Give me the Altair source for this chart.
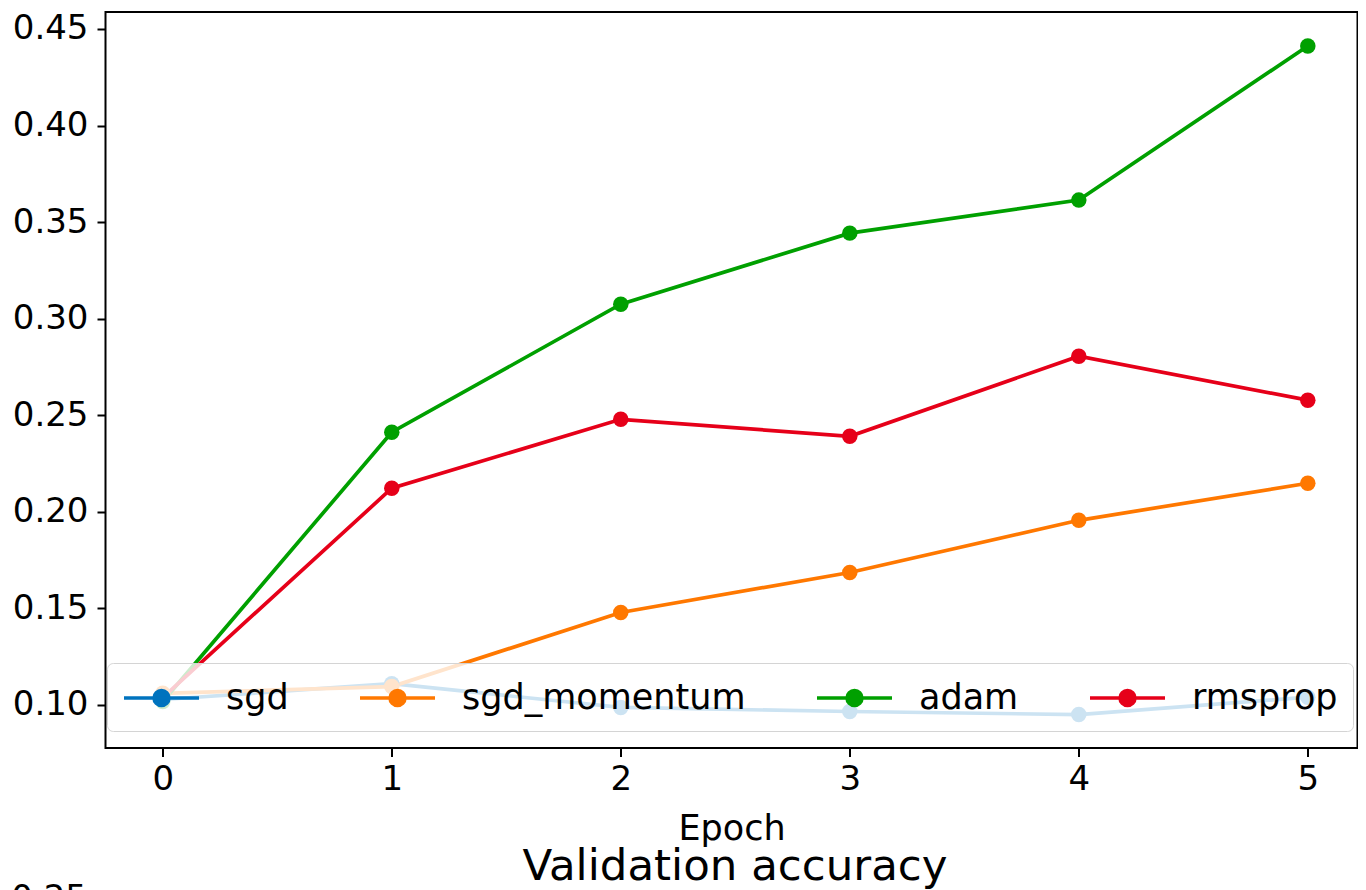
import altair as alt
import pandas as pd

# ---- data ----
epochs = [0, 1, 2, 3, 4, 5]
series_names = ["sgd", "sgd_momentum", "adam", "rmsprop"]
sgd = [0.1028, 0.1110, 0.0987, 0.0966, 0.0950, 0.1040]
sgd_momentum = [0.1060, 0.1095, 0.1479, 0.1686, 0.1956, 0.2148]
adam = [0.1018, 0.2412, 0.3075, 0.3443, 0.3614, 0.4412]
rmsprop = [0.1038, 0.2122, 0.2479, 0.2391, 0.2806, 0.2578]
series_colors = ["#0073be", "#ff7800", "#00a000", "#e60019"]
x_ticks = [0, 1, 2, 3, 4, 5]
y_ticks = [0.10, 0.15, 0.20, 0.25, 0.30, 0.35, 0.40, 0.45]
x_domain = [-0.25, 5.217]
y_domain = [0.0777, 0.4588]
chart_title = "Training accuracy"
x_title = "Epoch"
next_title = ["Validation accuracy"]
next_tick = ["0.25"]

rows = []
for name, vals in zip(series_names, [sgd, sgd_momentum, adam, rmsprop]):
    for e, v in zip(epochs, vals):
        rows.append({"epoch": e, "acc": v, "optimizer": name})
df = pd.DataFrame(rows)

W, H = 1252, 736
FONT = "DejaVu Sans"

# legend handle: a line with a dot in its middle (symbol radius r = 18 px)
legend_path = (
    "M-1,0L3.167,0"
    "M1.5,0A0.417,0.417,0,1,1,0.666,0A0.417,0.417,0,1,1,1.5,0Z"
)

color = alt.Color(
    "optimizer:N",
    scale=alt.Scale(domain=series_names, range=series_colors),
    sort=series_names,
    legend=alt.Legend(
        orient="none",
        legendX=1.5,
        legendY=651,
        direction="horizontal",
        columns=4,
        title=None,
        symbolType=legend_path,
        symbolSize=1296,
        symbolStrokeWidth=3.5,
        labelFont=FONT,
        labelFontSize=35,
        labelOffset=64,
        labelLimit=500,
        labelColor="black",
        columnPadding=64,
        padding=15,
        fillColor="rgba(255,255,255,0.8)",
        strokeColor="#d4d4d4",
        cornerRadius=6,
    ),
)

x = alt.X(
    "epoch:Q",
    scale=alt.Scale(domain=x_domain, nice=False, zero=False),
    axis=alt.Axis(
        values=x_ticks,
        format="d",
        title=x_title,
        titleFont=FONT,
        titleFontSize=35,
        titleFontWeight="normal",
        titleColor="black",
        titleY=91,
        titleBaseline="alphabetic",
        labelFont=FONT,
        labelFontSize=34,
        labelColor="black",
        labelPadding=6,
        tickSize=8.5,
        tickWidth=2,
        tickColor="black",
        domain=False,
        grid=False,
    ),
)
y = alt.Y(
    "acc:Q",
    scale=alt.Scale(domain=y_domain, nice=False, zero=False),
    axis=alt.Axis(
        values=y_ticks,
        format=".2f",
        title=None,
        labelFont=FONT,
        labelFontSize=34,
        labelColor="black",
        labelPadding=9,
        tickSize=8.5,
        tickWidth=2,
        tickColor="black",
        domain=False,
        grid=False,
    ),
)

base = alt.Chart(df)
lines = base.mark_line(strokeWidth=3.7).encode(x=x, y=y, color=color, order="epoch:Q")
points = base.mark_point(filled=True, size=240, opacity=1).encode(x=x, y=y, color=color)

next_title_df = pd.DataFrame({"t": next_title})
next_title_txt = alt.Chart(next_title_df).mark_text(
    font=FONT, fontSize=43.5, color="black", align="center", baseline="alphabetic"
).encode(text="t:N", x=alt.value(629.5), y=alt.value(868))

next_tick_df = pd.DataFrame({"t": next_tick})
next_tick_txt = alt.Chart(next_tick_df).mark_text(
    font=FONT, fontSize=34, color="black", align="right", baseline="alphabetic"
).encode(text="t:N", x=alt.value(-18.5), y=alt.value(897))

chart = (
    alt.layer(lines, points, next_title_txt, next_tick_txt)
    .properties(
        width=W,
        height=H,
        title=alt.TitleParams(
            chart_title,
            font=FONT,
            fontSize=43.5,
            fontWeight="normal",
            color="black",
            anchor="middle",
            baseline="alphabetic",
            offset=14,
        ),
        padding={"left": 97.5, "top": 4, "right": 0.5, "bottom": 142},
        autosize=alt.AutoSizeParams(type="none"),
    )
    .configure(font=FONT)
    .configure_view(stroke="black", strokeWidth=2)
)

chart.save("out.html", embed_options={"renderer": "svg", "actions": False})
